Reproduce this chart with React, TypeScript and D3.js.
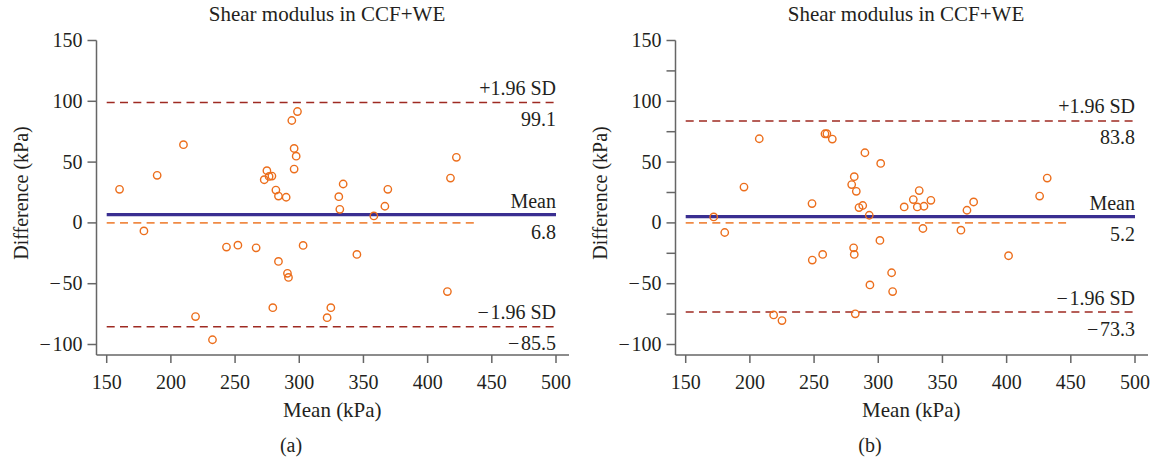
import React from "react";
import * as d3 from "d3";

// ---------- data ----------
const meanA: number[] = [160, 179, 189.3, 209.8, 219.2, 232.4, 243.3, 252.2, 266.4, 272.7, 274.8, 276.5, 278.7, 281.8, 283.8, 289.8, 279.4, 283.8, 290.8, 291.6, 294.2, 298.6, 296, 297.6, 296, 303, 321.7, 324.6, 330.8, 331.6, 334.2, 344.9, 358.1, 366.7, 369, 415.4, 417.8, 422.4];
const diffA: number[] = [27.6, -6.6, 39.1, 64.3, -77, -96.1, -19.9, -18.3, -20.5, 35.5, 42.9, 38.2, 38.5, 27, 22.1, 21.1, -69.7, -31.7, -41.5, -44.8, 84.2, 91.6, 61.2, 54.9, 44.3, -18.5, -77.9, -69.7, 21.6, 11.2, 32, -25.9, 5.7, 13.7, 27.6, -56.5, 36.9, 53.9];

const meanB: number[] = [171.8, 180.4, 195.4, 207.3, 218.5, 225, 248.4, 248.6, 256.7, 258.5, 260, 264.2, 279.3, 281.3, 282.9, 280.8, 281.3, 282.1, 285, 287.9, 289.6, 293, 293.5, 301.9, 301.3, 310.4, 311.2, 320.2, 327.3, 331.9, 330.4, 335.6, 341, 334.8, 364.4, 369.1, 374.3, 401.5, 425.7, 431.6];
const diffB: number[] = [4.9, -7.9, 29.5, 69.2, -75.7, -80.3, 15.9, -30.6, -25.9, 73.3, 73.3, 68.9, 31.5, 38, 26, -20.5, -25.9, -74.8, 12.6, 14.3, 57.7, 6.3, -51, 48.9, -14.4, -41, -56.5, 13.1, 19.2, 26.6, 13.1, 13.7, 18.6, -4.6, -6, 10.4, 17.2, -27, 22.1, 36.9];

const statsA = { mean: 6.8, upper: 99.1, lower: -85.5, zeroEnd: 440 };
const statsB = { mean: 5.2, upper: 83.8, lower: -73.3, zeroEnd: 450 };

const xTicks: number[] = [150, 200, 250, 300, 350, 400, 450, 500];
const yTicks: number[] = [150, 100, 50, 0, -50, -100];
const yMinorB: number[] = [125, 75, 25, -25, -75];

const title = "Shear modulus in CCF+WE";
const xLabel = "Mean (kPa)";
const yLabel = "Difference (kPa)";
const MINUS = "\u2212\u200a";
const fmt = (v: number) => (v < 0 ? MINUS + Math.abs(v) : String(v));
const fmt1 = (v: number) => (v < 0 ? MINUS + Math.abs(v).toFixed(1) : v.toFixed(1));

const FONT = "Liberation Serif, DejaVu Serif, Times New Roman, serif";
const SD_COLOR = "#9e2a22";
const MEAN_COLOR = "#3a2f91";
const ZERO_COLOR = "#f08a45";
const PT_COLOR = "#ec6e1c";
const AXIS_COLOR = "#666";
const TEXT = "#231f20";
const tstyle: React.CSSProperties = { fontFamily: FONT };

type PanelProps = {
  ox: number;
  xs: number[];
  ds: number[];
  stats: { mean: number; upper: number; lower: number; zeroEnd: number };
  minor: number[];
  tag: string;
};

function Panel({ ox, xs, ds, stats, minor, tag }: PanelProps) {
  const x = d3.scaleLinear().domain([150, 500]).range([ox + 106.7, ox + 556]);
  const y = d3.scaleLinear().domain([-100, 150]).range([344.5, 40.5]);
  const axisX = ox + 96.5;
  const axisY = 355;
  const xEnd = ox + 569;
  const x0 = x(150);
  const x1 = x(500);
  const cx = (x(150) + x(500)) / 2;
  return (
    <g fill={TEXT} style={tstyle}>
      <text x={ox + 327} y={21} fontSize={21} textAnchor="middle" style={tstyle}>{title}</text>
      {/* reference lines */}
      <line x1={x0} x2={x(stats.zeroEnd)} y1={y(0)} y2={y(0)} stroke={ZERO_COLOR} strokeWidth={1.6} strokeDasharray="8,5.3" />
      <line x1={x0} x2={x1} y1={y(stats.upper)} y2={y(stats.upper)} stroke={SD_COLOR} strokeWidth={1.5} strokeDasharray="8,5.3" />
      <line x1={x0} x2={x1} y1={y(stats.lower)} y2={y(stats.lower)} stroke={SD_COLOR} strokeWidth={1.5} strokeDasharray="8,5.3" />
      <line x1={x0} x2={x1} y1={y(stats.mean)} y2={y(stats.mean)} stroke={MEAN_COLOR} strokeWidth={3.4} />
      {/* points */}
      {xs.map((v, i) => (
        <circle key={i} cx={x(v)} cy={y(ds[i])} r={3.7} fill="none" stroke={PT_COLOR} strokeWidth={1.4} />
      ))}
      {/* line labels */}
      <g fontSize={20} textAnchor="end">
        <text x={x1} y={y(stats.upper) - 7.5} style={tstyle}>+1.96 SD</text>
        <text x={x1} y={y(stats.upper) + 23.5} style={tstyle}>{fmt1(stats.upper)}</text>
        <text x={x1} y={y(stats.mean) - 7} style={tstyle}>Mean</text>
        <text x={x1} y={y(stats.mean) + 24} style={tstyle}>{fmt1(stats.mean)}</text>
        <text x={x1} y={y(stats.lower) - 7.5} style={tstyle}>{MINUS + "1.96 SD"}</text>
        <text x={x1} y={y(stats.lower) + 23.5} style={tstyle}>{fmt1(stats.lower)}</text>
      </g>
      {/* axes */}
      <line x1={axisX} x2={axisX} y1={y(150)} y2={axisY} stroke={AXIS_COLOR} strokeWidth={1.5} />
      <line x1={axisX} x2={xEnd} y1={axisY} y2={axisY} stroke={AXIS_COLOR} strokeWidth={1.5} />
      {yTicks.map((t) => (
        <g key={"y" + t}>
          <line x1={axisX - 9} x2={axisX} y1={y(t)} y2={y(t)} stroke={AXIS_COLOR} strokeWidth={1.5} />
          <text x={axisX - 14} y={y(t) + 6.5} fontSize={20} textAnchor="end" style={tstyle}>{fmt(t)}</text>
        </g>
      ))}
      {minor.map((t) => (
        <line key={"m" + t} x1={axisX - 9} x2={axisX} y1={y(t)} y2={y(t)} stroke={AXIS_COLOR} strokeWidth={1.5} />
      ))}
      {xTicks.map((t) => (
        <g key={"x" + t}>
          <line x1={x(t)} x2={x(t)} y1={axisY} y2={axisY + 8} stroke={AXIS_COLOR} strokeWidth={1.5} />
          <text x={x(t)} y={389} fontSize={20} textAnchor="middle" style={tstyle}>{t}</text>
        </g>
      ))}
      <text x={cx + 1} y={417} fontSize={21} textAnchor="middle" style={tstyle}>{xLabel}</text>
      <text transform={`translate(${ox + 28},193) rotate(-90)`} fontSize={20} textAnchor="middle" style={tstyle}>{yLabel}</text>
      <text x={ox + 291} y={452} fontSize={20} textAnchor="middle" style={tstyle}>{tag}</text>
    </g>
  );
}

export default function App() {
  return (
    <svg width={1156} height={462} style={{ position: "absolute", left: 0, top: 0, background: "#fff", fontFamily: FONT }}>
      <rect width={1156} height={462} fill="#fff" />
      <Panel ox={0} xs={meanA} ds={diffA} stats={statsA} minor={[]} tag="(a)" />
      <Panel ox={579} xs={meanB} ds={diffB} stats={statsB} minor={yMinorB} tag="(b)" />
    </svg>
  );
}
